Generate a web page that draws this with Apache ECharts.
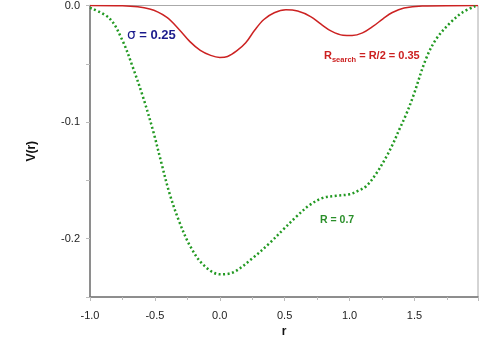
<!DOCTYPE html>
<html style="width:100%;height:100%;">
<head>
	<meta charset="UTF-8">
	<title>V(r)</title>
	<script src="https://cdn.jsdelivr.net/npm/echarts@6/dist/echarts.min.js"></script>
</head>
<body style="width:100%;height:100%;margin:0;padding:0;">
	<div id="chart" style="width:479px;height:355px;"></div>
	<script>
		// 绿色点线 R = 0.7
		var greenR = [-1.0, -0.85, -0.75, -0.67, -0.59, -0.51, -0.45, -0.385, -0.31, -0.23, -0.13, 0.0, 0.10, 0.256, 0.385, 0.487, 0.59, 0.692, 0.795, 0.897, 1.0, 1.064, 1.128, 1.205, 1.282, 1.333, 1.385, 1.436, 1.49, 1.59, 1.67, 1.78, 1.87, 1.97];
		var greenV = [-0.002, -0.011, -0.030, -0.053, -0.079, -0.109, -0.135, -0.162, -0.186, -0.206, -0.222, -0.2305, -0.229, -0.2164, -0.2037, -0.1924, -0.1811, -0.1712, -0.1650, -0.1632, -0.1619, -0.159, -0.155, -0.1443, -0.130, -0.119, -0.106, -0.0935, -0.078, -0.0455, -0.0285, -0.0144, -0.006, -0.0005];
		// 红色实线 R_search
		var redR = [-1.0, -0.75, -0.54, -0.41, -0.31, -0.23, -0.15, -0.07, 0.0, 0.06, 0.13, 0.20, 0.27, 0.34, 0.42, 0.51, 0.60, 0.70, 0.78, 0.86, 0.95, 1.02, 1.10, 1.18, 1.26, 1.33, 1.42, 1.56, 1.99];
		var redV = [0, -0.0003, -0.003, -0.010, -0.021, -0.031, -0.0385, -0.0428, -0.0445, -0.0437, -0.039, -0.032, -0.021, -0.012, -0.0062, -0.0037, -0.0048, -0.0095, -0.016, -0.022, -0.0255, -0.0257, -0.0235, -0.018, -0.0112, -0.006, -0.0022, -0.0005, 0];
		var xTicks = [-1.0, -0.5, 0.0, 0.5, 1.0, 1.5];
		var yTicks = [0.0, -0.1, -0.2];

		function pairs(xs, ys) {
			return xs.map(function(x, i) { return [x, ys[i]]; });
		}

		var myChart = echarts.init(document.getElementById('chart'));
		var option = {
			animation: false,
			grid: {
				left: 90, right: 1, top: 3, bottom: 58,
				show: true, borderColor: '#aaa', borderWidth: 1
			},
			xAxis: {
				type: 'value', min: -1.0, max: 1.99, interval: 0.5,
				name: 'r', nameLocation: 'middle', nameGap: 27,
				nameTextStyle: { fontFamily: 'Liberation Sans', fontWeight: 'bold', fontSize: 12, color: '#111' },
				axisLine: { onZero: false, lineStyle: { color: '#777', width: 1.5 } },
				axisTick: { length: 4, lineStyle: { color: '#bbb' } },
				minorTick: { show: true, splitNumber: 2, length: 3, lineStyle: { color: '#bbb' } },
				splitLine: { show: false },
				axisLabel: {
					showMaxLabel: false, margin: 13,
					fontFamily: 'Liberation Sans', fontSize: 11, color: '#222',
					formatter: function(v) { return xTicks.indexOf(v) >= 0 ? v.toFixed(1) : ''; }
				}
			},
			yAxis: {
				type: 'value', min: -0.25, max: 0, interval: 0.05,
				name: 'V(r)', nameLocation: 'middle', nameGap: 52, nameRotate: 90,
				nameTextStyle: { fontFamily: 'Liberation Sans', fontWeight: 'bold', fontSize: 12, color: '#111' },
				axisLine: { show: true, onZero: false, lineStyle: { color: '#777', width: 1.5 } },
				axisTick: { show: true, length: 4, lineStyle: { color: '#bbb' } },
				splitLine: { show: false },
				axisLabel: {
					margin: 10, fontFamily: 'Liberation Sans', fontSize: 11, color: '#222',
					formatter: function(v) {
						var r = Math.round(v * 100) / 100;
						for (var i = 0; i < yTicks.length; i++) {
							if (Math.abs(yTicks[i] - r) < 1e-6) return r.toFixed(1);
						}
						return '';
					}
				}
			},
			series: [{
				type: 'line', smooth: 0.35, symbol: 'none',
				data: pairs(redR, redV),
				lineStyle: { color: '#cc2222', width: 1.5 }
			}, {
				type: 'line', smooth: 0.35, symbol: 'none',
				data: pairs(greenR, greenV),
				lineStyle: { color: '#229922', width: 2.5, type: [2, 2.5] }
			}],
			graphic: [{
				type: 'text', left: 127, top: 28,
				style: {
					text: '{s|σ} {t|= 0.25}',
					rich: {
						s: { fontFamily: 'DejaVu Sans', fontSize: 14, fill: '#1a1a8c' },
						t: { fontFamily: 'Liberation Sans', fontWeight: 'bold', fontSize: 13, fill: '#1a1a8c' }
					}
				}
			}, {
				type: 'text', left: 324, top: 50,
				style: {
					text: '{r|R}{sub|search}{r| = R/2 = 0.35}',
					rich: {
						r: { fontFamily: 'Liberation Sans', fontWeight: 'bold', fontSize: 11, fill: '#cc2020', verticalAlign: 'top' },
						sub: { fontFamily: 'Liberation Sans', fontWeight: 'bold', fontSize: 7.5, fill: '#cc2020', padding: [6, 0, 0, 0] }
					}
				}
			}, {
				type: 'text', left: 320, top: 215,
				style: {
					text: 'R = 0.7',
					font: 'bold 10.5px "Liberation Sans"', fill: '#2a8f2a'
				}
			}]
		};
		myChart.setOption(option);
	</script>
</body>
</html>
